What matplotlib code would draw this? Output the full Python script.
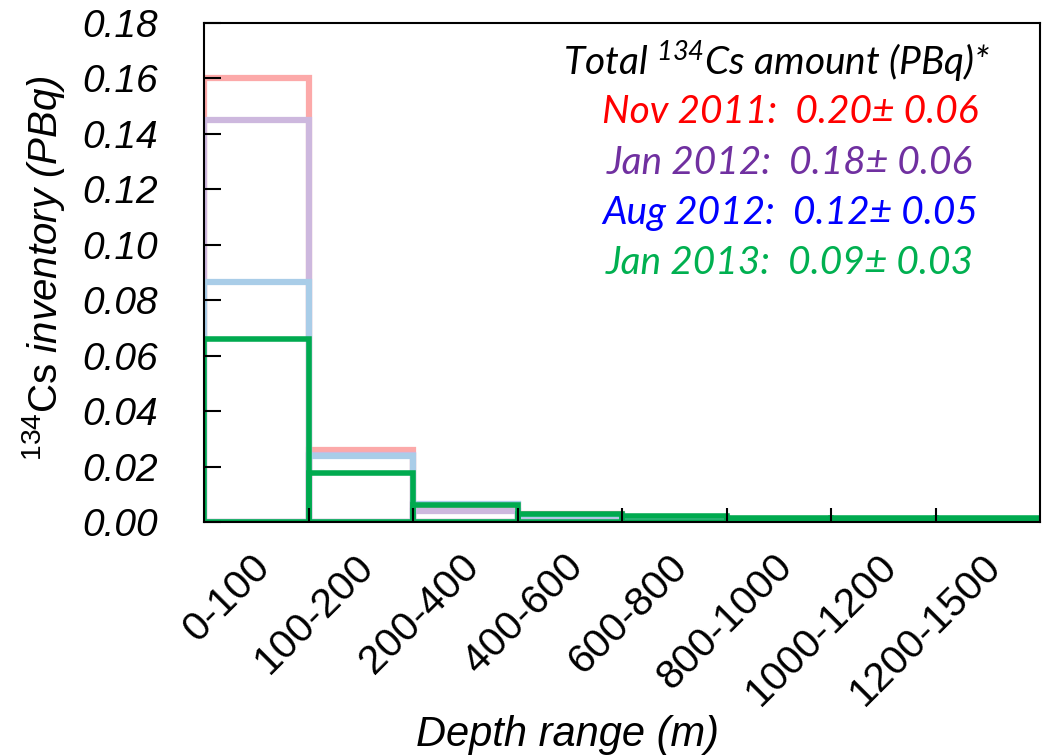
import numpy as np
import matplotlib.pyplot as plt
from matplotlib.transforms import ScaledTranslation

# depth bins (m) and 134Cs inventory per bin (PBq)
depths = ['0-100', '100-200', '200-400', '400-600', '600-800',
          '800-1000', '1000-1200', '1200-1500']
nov2011 = [0.160, 0.026, 0.006, 0.003, 0.0015, 0.001, 0.0008, 0.0008]
jan2012 = [0.145, 0.024, 0.004, 0.002, 0.001, 0.0008, 0.0006, 0.0006]
aug2012 = [0.0865, 0.0238, 0.0065, 0.0025, 0.0012, 0.0008, 0.0006, 0.0006]
jan2013 = [0.066, 0.0177, 0.0061, 0.003, 0.002, 0.0015, 0.0015, 0.0015]

# total amounts shown in the legend text
totals = [('Nov 2011:  0.20\u00b1 0.06', '#ff0000'),
          ('Jan 2012:  0.18\u00b1 0.06', '#7030a0'),
          ('Aug 2012:  0.12\u00b1 0.05', '#0000ff'),
          ('Jan 2013:  0.09\u00b1 0.03', '#00b050')]

series = [(nov2011, '#fca9a9', 4.5),
          (jan2012, '#cdb8de', 4.5),
          (aug2012, '#a9cde8', 4.5),
          (jan2013, '#00aa4f', 4.0)]

plt.rcParams['mathtext.fontset'] = 'custom'
plt.rcParams['mathtext.rm'] = 'Liberation Sans'
plt.rcParams['mathtext.it'] = 'Liberation Sans:italic'

W, H = 1045, 756
fig = plt.figure(figsize=(W / 100, H / 100), dpi=100)
ax = fig.add_axes([204 / W, 1 - 522 / H, 836 / W, 499 / H])

x = np.arange(len(depths))
for vals, col, lw in series:
    ax.bar(x, vals, width=1.0, align='edge', fill=False,
           edgecolor=col, linewidth=lw)

ax.set_xlim(0, len(depths))
ax.set_ylim(0, 0.18)

ax.set_yticks(np.arange(0, 0.181, 0.02))
ax.set_yticklabels(['%.2f' % v for v in np.arange(0, 0.181, 0.02)],
                   fontstyle='italic', family='Liberation Sans', size=28)
ax.tick_params(axis='y', direction='in', length=12, width=1.5, pad=33)

# boundaries get ticks, centres get labels
ax.set_xticks(np.arange(1, len(depths)))
ax.set_xticklabels([])
ax.tick_params(axis='x', which='major', direction='in', length=10, width=1.5)
ax.set_xticks(x + 0.5, minor=True)
ax.set_xticklabels(depths, minor=True, rotation=45, ha='right',
                   va='top', rotation_mode='anchor',
                   family='Liberation Sans', size=29.5)
ax.tick_params(axis='x', which='minor', length=0, pad=18)
shift = ScaledTranslation(-6 / 100, 0, fig.dpi_scale_trans)
for lbl in ax.get_xticklabels(minor=True):
    lbl.set_transform(lbl.get_transform() + shift)

for sp in ax.spines.values():
    sp.set_linewidth(1.5)

fig.text(44 / W, 1 - 268 / H, r'$\mathrm{^{134}Cs}$ inventory (PBq)',
         rotation=90, ha='center', va='center', fontstyle='italic',
         family='Liberation Sans', size=29)
fig.text(567 / W, 1 - 735 / H, 'Depth range (m)', ha='center', va='center',
         fontstyle='italic', family='Liberation Sans', size=30)

fig.text(777 / W, 1 - 62 / H, r'Total $^{\mathdefault{134}}$Cs amount (PBq)*',
         ha='center', va='center', fontstyle='italic', family='Lato', size=28)
for i, (s, c) in enumerate(totals):
    fig.text(790 / W, 1 - (112 + 50.5 * i) / H, s, color=c, ha='center',
             va='center', fontstyle='italic', family='Lato', size=28)

fig.savefig('out.png', dpi=100)
